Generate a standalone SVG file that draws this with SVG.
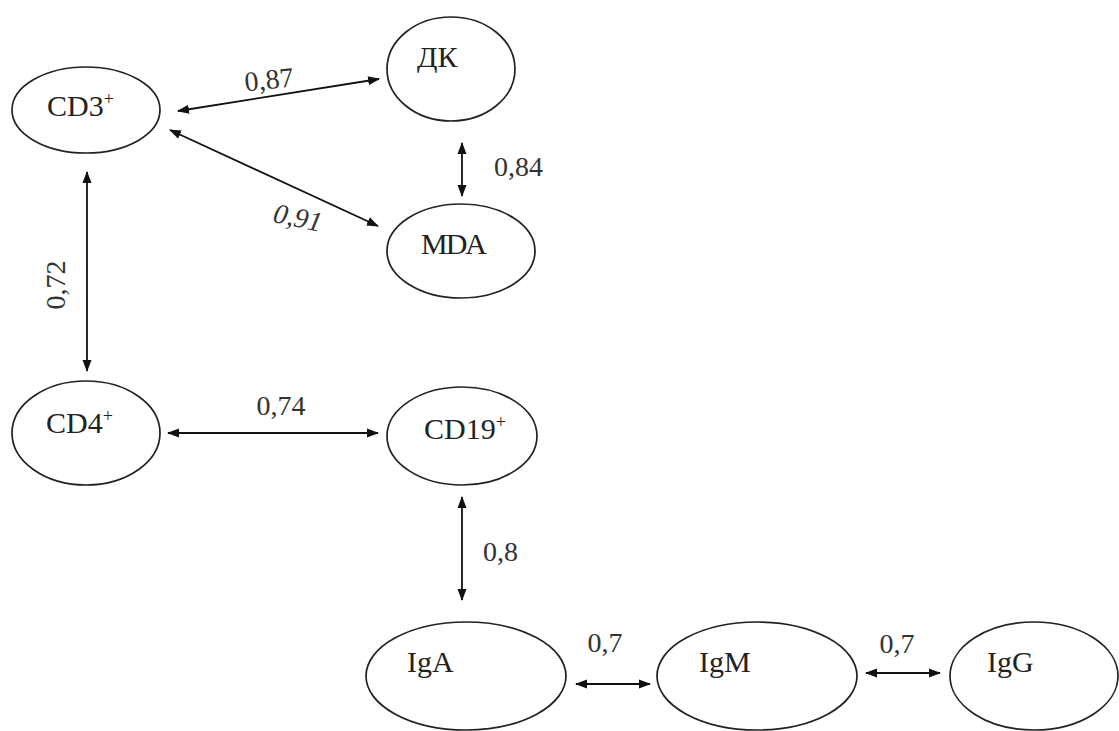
<svg xmlns="http://www.w3.org/2000/svg" width="1119" height="731" viewBox="0 0 1119 731">
<style>
.n{fill:#fff;stroke:#222;stroke-width:1.7}
.t{font-family:"Liberation Serif","Times New Roman",serif;font-size:30px;fill:#222}
.l{font-family:"Liberation Serif","Times New Roman",serif;font-size:28px;fill:#333}
.sup{font-size:18px}
.c{stroke:#111;stroke-width:1.8;fill:none;marker-start:url(#ah);marker-end:url(#ah)}
</style>
<defs>
<marker id="ah" markerUnits="userSpaceOnUse" markerWidth="12" markerHeight="10" refX="11" refY="5" orient="auto-start-reverse">
<path d="M0,0.5 L12,5 L0,9.5 z" fill="#111"/>
</marker>
</defs>
<rect width="1119" height="731" fill="#fff"/>
<g id="connectors">
<line class="c" x1="178" y1="111" x2="379" y2="79"/>
<line class="c" x1="170" y1="130" x2="378" y2="226"/>
<line class="c" x1="462" y1="143" x2="462" y2="196"/>
<line class="c" x1="87" y1="172" x2="87" y2="371"/>
<line class="c" x1="168" y1="433" x2="378" y2="433"/>
<line class="c" x1="462" y1="497" x2="462" y2="600"/>
<line class="c" x1="576" y1="684" x2="650" y2="684"/>
<line class="c" x1="866" y1="673" x2="940" y2="673"/>
</g>
<g id="labels">
<text class="l" x="269" y="89" text-anchor="middle" transform="rotate(-6 269 80)">0,87</text>
<text class="l" x="298" y="227" text-anchor="middle" font-style="italic" transform="rotate(12 298 217)">0,91</text>
<text class="l" x="494" y="176">0,84</text>
<text class="l" x="65" y="285" text-anchor="middle" transform="rotate(-90 65 285)">0,72</text>
<text class="l" x="281" y="415" text-anchor="middle">0,74</text>
<text class="l" x="483" y="561">0,8</text>
<text class="l" x="605" y="652" text-anchor="middle">0,7</text>
<text class="l" x="897" y="653" text-anchor="middle">0,7</text>
</g>
<g id="node-cd3">
<ellipse class="n" cx="86" cy="110" rx="74" ry="43"/>
<text class="t" x="47" y="116">CD3<tspan class="sup" dy="-11">+</tspan></text>
</g>
<g id="node-dk">
<ellipse class="n" cx="451" cy="69" rx="64" ry="52"/>
<text class="t" x="417" y="67">ДК</text>
</g>
<g id="node-mda">
<ellipse class="n" cx="461" cy="251" rx="74" ry="47"/>
<text class="t" x="421" y="254" letter-spacing="-2">MDA</text>
</g>
<g id="node-cd4">
<ellipse class="n" cx="86" cy="433" rx="74" ry="52"/>
<text class="t" x="46" y="433">CD4<tspan class="sup" dy="-11">+</tspan></text>
</g>
<g id="node-cd19">
<ellipse class="n" cx="462" cy="436" rx="75" ry="49"/>
<text class="t" x="424" y="439">CD19<tspan class="sup" dy="-11">+</tspan></text>
</g>
<g id="node-iga">
<ellipse class="n" cx="466" cy="676" rx="100" ry="54"/>
<text class="t" x="407" y="672">IgA</text>
</g>
<g id="node-igm">
<ellipse class="n" cx="757" cy="676" rx="100" ry="54"/>
<text class="t" x="699" y="672">IgM</text>
</g>
<g id="node-igg">
<ellipse class="n" cx="1034" cy="676" rx="84" ry="54"/>
<text class="t" x="987" y="672">IgG</text>
</g>
</svg>
